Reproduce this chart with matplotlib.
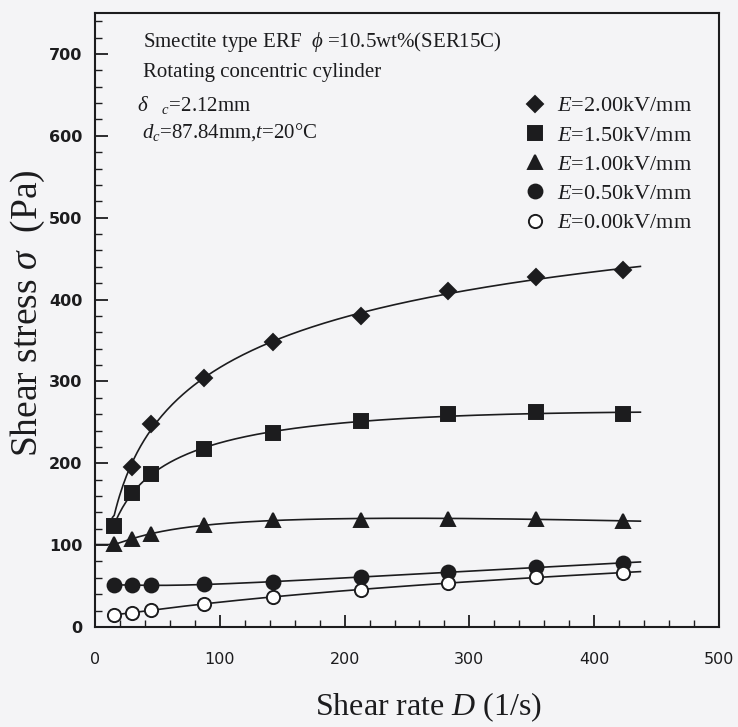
import numpy as np
import matplotlib
matplotlib.use("Agg")
import matplotlib.pyplot as plt
from matplotlib.lines import Line2D
from matplotlib.ticker import MultipleLocator

plt.rcParams['mathtext.fontset'] = 'custom'
plt.rcParams['mathtext.rm'] = 'Liberation Serif'
plt.rcParams['mathtext.it'] = 'Liberation Serif:italic'

# shear rate D (1/s)
shear_rate = [15, 30, 45, 87, 143, 213, 283, 353, 423]

# shear stress (Pa) for each field strength
stress_200 = [135, 195, 248, 304, 348, 380, 410, 427, 436]
stress_150 = [123, 164, 187, 218, 237, 251, 260, 262, 260]
stress_100 = [101, 107, 114, 125, 131, 131, 132, 132, 130]
stress_050 = [51, 51, 51, 52, 55, 61, 67, 73, 78]
stress_000 = [15, 17, 21, 28, 37, 45, 54, 61, 66]

labels = ['$E$=2.00kV/mm', '$E$=1.50kV/mm', '$E$=1.00kV/mm',
          '$E$=0.50kV/mm', '$E$=0.00kV/mm']

ink = '#1c1c1e'
bg = '#f4f4f6'


def fit_curve(x, y, x_lo, x_hi, n=300):
    # least-squares cubic in log(D); held flat to the left of the first point
    x = np.asarray(x, float)
    y = np.asarray(y, float)
    coef = np.polyfit(np.log(x), y, 3)
    xs = np.linspace(x_lo, x_hi, n)
    ys = np.polyval(coef, np.log(np.maximum(xs, x[0])))
    return xs, ys


fig = plt.figure(figsize=(7.38, 7.27), dpi=100, facecolor=bg)
ax = fig.add_axes([0.1287, 0.1376, 0.8456, 0.8445], facecolor=bg)

series = [
    (stress_200, 'D', 8.5, ink, 14),
    (stress_150, 's', 10.5, ink, 15),
    (stress_100, '^', 10, ink, 0),
    (stress_050, 'o', 10, ink, 15),
    (stress_000, 'o', 9.5, 'white', 15),
]

handles = []
for k, (vals, mk, ms, face, x0) in enumerate(series):
    xs, ys = fit_curve(shear_rate, vals, x0, 437)
    ax.plot(xs, ys, color=ink, lw=1.2, zorder=2)
    every = slice(1, None) if k == 0 else None
    ax.plot(shear_rate, vals, linestyle='none', marker=mk, markersize=ms,
            markerfacecolor=face, markeredgecolor=ink, markeredgewidth=1.4,
            markevery=every, zorder=3 + k)
    handles.append(Line2D([], [], linestyle='none', marker=mk, markersize=ms,
                          markerfacecolor=face, markeredgecolor=ink,
                          markeredgewidth=1.4))

ax.set_xlim(0, 500)
ax.set_ylim(0, 750)
ax.xaxis.set_major_locator(MultipleLocator(100))
ax.xaxis.set_minor_locator(MultipleLocator(20))
ax.yaxis.set_major_locator(MultipleLocator(100))
ax.yaxis.set_minor_locator(MultipleLocator(20))
ax.set_yticks(np.arange(0, 701, 100))
ax.tick_params(which='both', direction='in', top=False, right=False, color=ink)
ax.tick_params(which='major', length=9, width=1.3)
ax.tick_params(which='minor', length=5, width=1.0)
ax.tick_params(axis='x', pad=18, labelsize=11.5, labelcolor=ink)
ax.tick_params(axis='y', pad=9, labelsize=11.5, labelcolor=ink)
for lab in ax.get_yticklabels():
    lab.set_fontweight('bold')
for s in ax.spines.values():
    s.set_linewidth(1.5)
    s.set_color(ink)

serif = ['Liberation Serif', 'DejaVu Sans']
ax.set_xlabel('Shear rate $D$ (1/s)', family=serif, fontsize=23, color=ink)
ax.set_ylabel(r'Shear stress $\sigma$  (Pa)', family=serif, fontsize=27, color=ink)
ax.xaxis.set_label_coords(0.534, -0.104)
ax.yaxis.set_label_coords(-0.077, 0.511)

notes = [
    (143, 47, r'Smectite type ERF  $\phi$ =10.5wt%(SER15C)'),
    (143, 77, 'Rotating concentric cylinder'),
    (137, 111, r'$\delta\ \ \ {}_c$=2.12mm'),
    (142, 138, '$d_c$=87.84mm,$t$=20°C'),
]
for px, py, txt in notes:
    fig.text(px / 738, 1 - py / 727, txt, family=serif, fontsize=15,
             color=ink, ha='left', va='baseline')

leg = ax.legend(handles, labels, loc='upper left',
                bbox_to_anchor=(515 / 738, 1 - 87 / 727),
                bbox_transform=fig.transFigure,
                frameon=False, handletextpad=0.5, labelspacing=0.39,
                handlelength=1.0, borderaxespad=0,
                prop={'family': 'Liberation Serif', 'size': 16})
for t in leg.get_texts():
    t.set_color(ink)

fig.savefig('out.png', dpi=100, facecolor=bg)
